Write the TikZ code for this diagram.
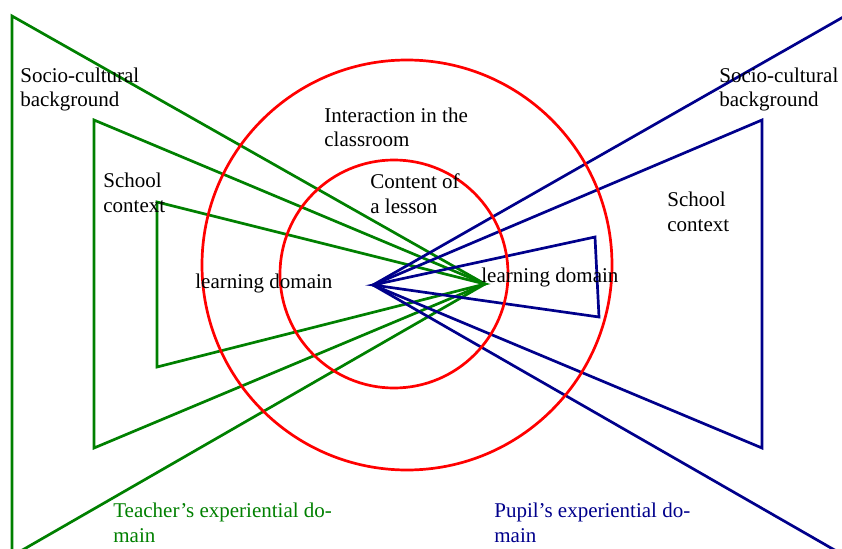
\documentclass[tikz,border=0pt]{standalone}
\usepackage{fontspec}
\setmainfont{Liberation Serif}
\usepackage{tikz}
\usetikzlibrary{calc}
\definecolor{teachG}{RGB}{0,128,0}
\definecolor{pupilB}{RGB}{0,0,139}
\definecolor{ringR}{RGB}{255,0,0}
\tikzset{txt/.style={anchor=base west, align=left, inner sep=0pt,
  font=\fontsize{21}{24.5}\selectfont}}

\begin{document}
\begin{tikzpicture}[x=1pt, y=-1pt, line width=2.7pt]
\useasboundingbox (0,0) rectangle (842,548);
\clip (0,0) rectangle (842,548);
% apexes of the two domains
\coordinate (T) at (485,284);
\coordinate (P) at (373,285);
% teacher's side
\draw[teachG] (T) -- (12,16) -- (12,556) -- cycle;
\draw[teachG] (T) -- (94,120) -- (94,448) -- cycle;
\draw[teachG] (T) -- (157,202) -- (157,367) -- cycle;
% pupil's side
\draw[pupilB] (P) -- (845,16) -- (845,556) -- cycle;
\draw[pupilB] (P) -- (762,120) -- (762,448) -- cycle;
\draw[pupilB] (P) -- (595,237) -- (599,317) -- cycle;
% classroom and lesson
\draw[ringR] (407,265) circle[radius=205];
\draw[ringR] (394,274) circle[radius=114];
% labels (placed at the baseline of the last line)
\node[txt] (socioT) at (19,107) {Socio-cultural\\background};
\node[txt] (socioP) at (718,107) {Socio-cultural\\background};
\node[txt] (schoolT) at (102,212) {School\\context};
\node[txt] (schoolP) at (666,231) {School\\context};
\node[txt] (inter) at (323,147) {Interaction in the\\classroom};
\node[txt] (content) at (369,213) {Content of\\a lesson};
\node[txt] (learnA) at (194,288) {learning domain};
\node[txt] (learnB) at (480,282) {learning domain};
\node[txt, teachG] (expT) at (112,542) {Teacher's experiential do-\\main};
\node[txt, pupilB] (expP) at (493,542) {Pupil's experiential do-\\main};
\end{tikzpicture}
\end{document}
